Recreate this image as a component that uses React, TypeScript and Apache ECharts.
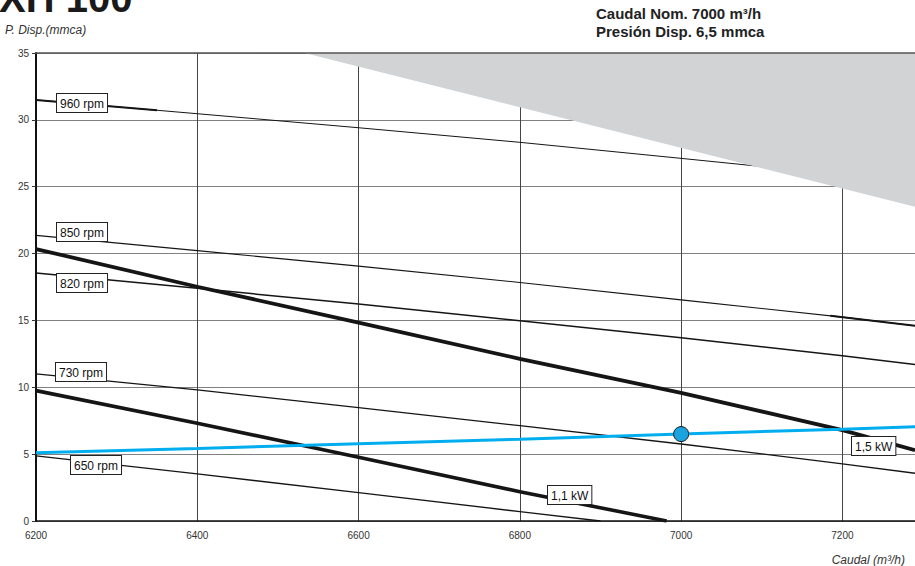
import React, { useEffect, useRef } from "react";
import * as echarts from "echarts";

// Flow axis sample points (m3/h)
const flowQ = [6200, 6400, 6600, 6800, 7000, 7200, 7290];
// Fan speed curves (mmca)
const rpm960 = [31.49, 30.46, 29.41, 28.32, 27.12, 25.9, 25.3];
const rpm850 = [21.36, 20.22, 19.06, 17.84, 16.54, 15.25, 14.6];
const rpm820 = [18.54, 17.4, 16.22, 14.97, 13.7, 12.35, 11.7];
const rpm730 = [11.0, 9.81, 8.48, 7.13, 5.76, 4.27, 3.57];
// Power curves
const kw15 = [20.34, 17.52, 14.84, 12.13, 9.58, 6.8, 5.3];
const kw11Q = [6200, 6400, 6600, 6800, 6982];
const kw11 = [9.75, 7.31, 4.77, 2.19, 0];
const rpm650Q = [6200, 6400, 6600, 6800, 6900];
const rpm650 = [4.87, 3.52, 2.12, 0.7, 0];
// short heavier pieces of curves
const rpm960HeavyQ = [6200, 6350];
const rpm960Heavy = [31.49, 30.72];
const rpm850HeavyQ = [7185, 7290];
const rpm850Heavy = [15.35, 14.6];
// System curve (blue)
const systemCurve = [5.1, 5.43, 5.78, 6.12, 6.5, 6.87, 7.05];
// Duty point
const dutyPoint = [7000, 6.5];
// Shaded (out of range) zone
const shadeQ = [6533, 7290, 7290];
const shadeP = [35, 23.5, 35];

const xMin = 6200;
const xMax = 7290;
const xStep = 200;
const yMin = 0;
const yMax = 35;
const yStep = 5;

const FONT = '"Liberation Sans", Arial, Helvetica, sans-serif';

const zip = (xs: number[], ys: number[]) => xs.map((x, i) => [x, ys[i]]);

const curve = (name: string, xs: number[], ys: number[], width: number, z = 2) => ({
  name,
  type: "line",
  data: zip(xs, ys),
  symbol: "none",
  showSymbol: false,
  silent: true,
  z,
  lineStyle: { color: "#151515", width, cap: "butt" },
});

const boxLabel = (text: string, x: number, y: number) => ({
  type: "text",
  x,
  y,
  z: 100,
  silent: true,
  style: {
    text,
    font: `12px ${FONT}`,
    fill: "#111",
    align: "left",
    verticalAlign: "top",
    backgroundColor: "#ffffff",
    borderColor: "#222",
    borderWidth: 1,
    padding: [3, 3, 2, 3],
    lineHeight: 13,
  },
});

export default function App() {
  const ref = useRef<HTMLDivElement>(null);

  useEffect(() => {
    document.body.style.margin = "0";
    if (!ref.current) return;
    const chart = echarts.init(ref.current, null, { renderer: "svg" });
    const option: any = {
      animation: false,
      backgroundColor: "#ffffff",
      grid: { left: 36, right: 0, top: 53, bottom: 45, containLabel: false },
      xAxis: [
        {
          type: "value",
          min: xMin,
          max: xMax,
          interval: xStep,
          axisLine: { show: true, onZero: false, lineStyle: { color: "#111", width: 1.5 } },
          axisTick: { show: false },
          axisLabel: {
            show: true,
            margin: 9,
            fontSize: 10,
            fontFamily: FONT,
            color: "#333",
            showMaxLabel: false,
            formatter: (v: number) => String(v),
          },
          splitLine: { show: true, showMaxLine: false, lineStyle: { color: "#444", width: 1 } },
        },
        {
          type: "value",
          position: "top",
          min: xMin,
          max: xMax,
          z: 20,
          axisLine: { show: true, onZero: false, lineStyle: { color: "#555", width: 1.5 } },
          axisTick: { show: false },
          axisLabel: { show: false },
          splitLine: { show: false },
        },
      ],
      yAxis: {
        type: "value",
        min: yMin,
        max: yMax,
        interval: yStep,
        axisLine: { show: true, onZero: false, lineStyle: { color: "#111", width: 2 } },
        axisTick: { show: true, length: 4, lineStyle: { color: "#333", width: 1 } },
        axisLabel: { margin: 7, fontSize: 10, fontFamily: FONT, color: "#333" },
        splitLine: { show: true, lineStyle: { color: "#808080", width: 1.2 } },
      },
      series: [
        curve("960 rpm", flowQ, rpm960, 1),
        curve("960 rpm heavy", rpm960HeavyQ, rpm960Heavy, 2),
        curve("850 rpm", flowQ, rpm850, 1.1),
        curve("850 rpm heavy", rpm850HeavyQ, rpm850Heavy, 2),
        curve("820 rpm", flowQ, rpm820, 1.5),
        curve("730 rpm", flowQ, rpm730, 1.3),
        curve("650 rpm", rpm650Q, rpm650, 1.3),
        curve("1,5 kW", flowQ, kw15, 3.8),
        curve("1,1 kW", kw11Q, kw11, 3.6),
        {
          name: "shade",
          type: "custom",
          z: 3,
          silent: true,
          data: [[shadeQ[0], shadeP[0]]],
          renderItem: (_params: any, api: any) => {
            const pts = shadeQ.map((q, i) => api.coord([q, shadeP[i]]));
            return {
              type: "polygon",
              shape: { points: pts },
              style: { fill: "#D1D3D4", stroke: "none" },
            };
          },
        },
        {
          name: "Sistema",
          type: "line",
          data: zip(flowQ, systemCurve),
          symbol: "none",
          showSymbol: false,
          silent: true,
          z: 4,
          lineStyle: { color: "#00AEEF", width: 3 },
        },
        {
          name: "Punto",
          type: "scatter",
          data: [dutyPoint],
          symbol: "circle",
          symbolSize: 15,
          silent: true,
          z: 6,
          itemStyle: { color: "#1AA3DF", borderColor: "#1a1a1a", borderWidth: 1, opacity: 1 },
        },
      ],
      graphic: [
        {
          type: "text",
          x: -1,
          y: -2,
          silent: true,
          style: {
            text: "XH 100",
            font: `bold 40px ${FONT}`,
            fill: "#1a1a1a",
            align: "left",
            verticalAlign: "middle",
          },
        },
        {
          type: "text",
          x: 5,
          y: 30,
          silent: true,
          style: {
            text: "P. Disp.(mmca)",
            font: `italic 12px ${FONT}`,
            fill: "#333",
            align: "left",
            verticalAlign: "middle",
          },
        },
        {
          type: "text",
          x: 905,
          y: 560,
          silent: true,
          style: {
            text: "Caudal (m³/h)",
            font: `italic 12px ${FONT}`,
            fill: "#333",
            align: "right",
            verticalAlign: "middle",
          },
        },
        {
          type: "text",
          x: 596,
          y: 13,
          silent: true,
          style: {
            text: "Caudal Nom. 7000 m³/h",
            font: `bold 15px ${FONT}`,
            fill: "#222",
            align: "left",
            verticalAlign: "middle",
          },
        },
        {
          type: "text",
          x: 596,
          y: 31,
          silent: true,
          style: {
            text: "Presión Disp. 6,5 mmca",
            font: `bold 15px ${FONT}`,
            fill: "#222",
            align: "left",
            verticalAlign: "middle",
          },
        },
        boxLabel("960 rpm", 57, 94),
        boxLabel("850 rpm", 57, 223),
        boxLabel("820 rpm", 57, 274),
        boxLabel("730 rpm", 56, 363),
        boxLabel("650 rpm", 71, 456),
        boxLabel("1,1 kW", 548, 486),
        boxLabel("1,5 kW", 852, 437),
      ],
    };
    chart.setOption(option);
    return () => chart.dispose();
  }, []);

  return (
    <div
      ref={ref}
      style={{ position: "fixed", left: 0, top: 0, width: 915, height: 566, background: "#fff" }}
    />
  );
}
